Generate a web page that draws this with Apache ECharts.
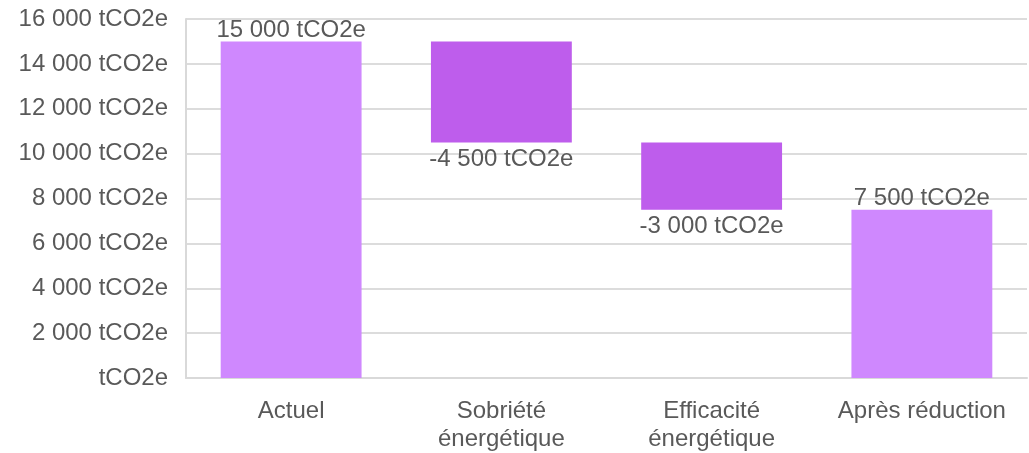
<!DOCTYPE html>
<html>
<head>
<meta charset="utf-8">
<script src="https://cdn.jsdelivr.net/npm/echarts@6/dist/echarts.min.js"></script>
<style>
  html, body { margin: 0; padding: 0; background: #fff; }
  #chart { width: 1029px; height: 453px; }
</style>
</head>
<body>
<div id="chart"></div>
<script>
// Waterfall of emissions: starting total, two reductions, resulting total
const categories = ['Actuel', 'Sobriété\nénergétique', 'Efficacité\nénergétique', 'Après réduction'];
const values = [15000, -4500, -3000, 7500];
const isTotal = [true, false, false, true];
const yTicks = [0, 2000, 4000, 6000, 8000, 10000, 12000, 14000, 16000];
const unit = 'tCO2e';

const totalColor = '#cf88fe';
const deltaColor = '#be5dec';
const textColor = '#595959';
const font = 'Liberation Sans, Arial, sans-serif';

function fmt(v) {
  if (v === 0) return unit;
  const sign = v < 0 ? '-' : '';
  const s = String(Math.abs(v)).replace(/\B(?=(\d{3})+(?!\d))/g, ' ');
  return sign + s + ' ' + unit;
}

// invisible base + visible step for each category
const base = [];
const step = [];
let running = 0;
values.forEach((v, i) => {
  if (isTotal[i]) {
    running = v;
    base.push(0);
    step.push(v);
  } else {
    const next = running + v;
    base.push(Math.min(running, next));
    step.push(Math.abs(v));
    running = next;
  }
});

const chart = echarts.init(document.getElementById('chart'), null, { renderer: 'canvas' });
chart.setOption({
  animation: false,
  grid: { left: 186, right: 2, top: 19, bottom: 73 },
  xAxis: {
    type: 'category',
    data: categories,
    axisLine: { show: true, lineStyle: { color: '#d9d9d9', width: 2 } },
    axisTick: { show: false },
    axisLabel: { color: textColor, fontFamily: font, fontSize: 24, lineHeight: 28, margin: 19, interval: 0 }
  },
  yAxis: {
    type: 'value',
    min: yTicks[0],
    max: yTicks[yTicks.length - 1],
    interval: yTicks[1] - yTicks[0],
    axisLine: { show: true, lineStyle: { color: '#d9d9d9', width: 2 } },
    axisTick: { show: false },
    splitLine: { lineStyle: { color: '#dcdcdc', width: 2 } },
    axisLabel: { color: textColor, fontFamily: font, fontSize: 24, margin: 18, formatter: fmt }
  },
  series: [
    {
      type: 'bar',
      stack: 'w',
      data: base,
      itemStyle: { color: 'transparent' },
      barCategoryGap: '33%',
      silent: true
    },
    {
      type: 'bar',
      stack: 'w',
      barCategoryGap: '33%',
      data: step.map((s, i) => ({
        value: s,
        itemStyle: { color: isTotal[i] ? totalColor : deltaColor },
        label: {
          show: true,
          position: values[i] < 0 ? 'bottom' : 'top',
          distance: values[i] < 0 ? 5 : -1,
          formatter: () => fmt(values[i]),
          color: textColor,
          fontFamily: font,
          fontSize: 24
        }
      }))
    }
  ]
});
</script>
</body>
</html>
